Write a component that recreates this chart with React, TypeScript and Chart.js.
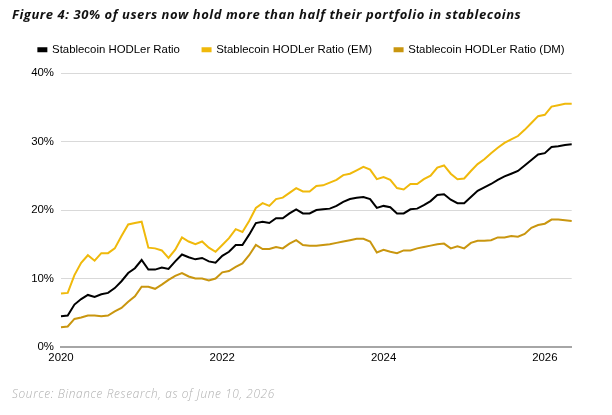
import React, { useEffect, useRef } from "react";
import { Chart, registerables } from "chart.js";

Chart.register(...registerables);

const months: string[] = [];
for (let y = 2020; y <= 2026; y++) {
  for (let m = 1; m <= 12; m++) {
    if (y === 2026 && m > 5) break;
    months.push(`${y}-${String(m).padStart(2, "0")}`);
  }
}

const hodlerAll = [
  4.5, 4.6, 6.2, 7.0, 7.6, 7.3, 7.7, 7.9, 8.6, 9.6, 10.8, 11.5,
  12.7, 11.3, 11.3, 11.6, 11.4, 12.5, 13.5, 13.1, 12.8, 13.0, 12.5, 12.3,
  13.3, 13.9, 14.9, 14.9, 16.4, 18.1, 18.3, 18.1, 18.8, 18.8, 19.5, 20.1,
  19.5, 19.5, 20.0, 20.1, 20.2, 20.6, 21.2, 21.6, 21.8, 21.9, 21.6, 20.3,
  20.6, 20.4, 19.5, 19.5, 20.1, 20.2, 20.7, 21.3, 22.2, 22.3, 21.5, 21.0,
  21.0, 21.9, 22.8, 23.3, 23.8, 24.4, 24.9, 25.3, 25.7, 26.5, 27.3, 28.1,
  28.3, 29.2, 29.3, 29.5, 29.6,
];

const hodlerEM = [
  7.8, 7.9, 10.5, 12.3, 13.4, 12.6, 13.7, 13.7, 14.4, 16.2, 17.9, 18.1,
  18.3, 14.5, 14.4, 14.1, 13.0, 14.2, 16.0, 15.4, 15.0, 15.4, 14.5, 13.9,
  14.9, 15.9, 17.2, 16.8, 18.4, 20.3, 21.0, 20.6, 21.6, 21.8, 22.5, 23.2,
  22.7, 22.7, 23.5, 23.6, 24.0, 24.4, 25.1, 25.3, 25.8, 26.3, 25.9, 24.5,
  24.8, 24.4, 23.2, 23.0, 23.8, 23.8, 24.5, 25.0, 26.2, 26.5, 25.3, 24.5,
  24.6, 25.7, 26.7, 27.4, 28.3, 29.1, 29.8, 30.3, 30.8, 31.7, 32.7, 33.7,
  33.9, 35.1, 35.3, 35.5, 35.5,
];

const hodlerDM = [
  2.9, 3.0, 4.1, 4.3, 4.6, 4.6, 4.5, 4.6, 5.2, 5.7, 6.6, 7.4,
  8.8, 8.8, 8.5, 9.1, 9.8, 10.4, 10.8, 10.3, 10.0, 10.0, 9.7, 10.0,
  10.9, 11.1, 11.7, 12.2, 13.4, 14.9, 14.3, 14.3, 14.6, 14.4, 15.1, 15.6,
  14.9, 14.8, 14.8, 14.9, 15.0, 15.2, 15.4, 15.6, 15.8, 15.8, 15.4, 13.8,
  14.2, 13.9, 13.7, 14.1, 14.1, 14.4, 14.6, 14.8, 15.0, 15.1, 14.4, 14.7,
  14.4, 15.2, 15.5, 15.5, 15.6, 16.0, 16.0, 16.2, 16.1, 16.5, 17.4, 17.8,
  18.0, 18.6, 18.6, 18.5, 18.4,
];

const seriesNames = [
  "Stablecoin HODLer Ratio",
  "Stablecoin HODLer Ratio (EM)",
  "Stablecoin HODLer Ratio (DM)",
];
const yTicks = [0, 10, 20, 30, 40];
const yearTicks = ["2020", "2022", "2024", "2026"];

const FONT = "'Liberation Sans', Arial, sans-serif";

export default function App() {
  const ref = useRef<HTMLCanvasElement>(null);

  useEffect(() => {
    if (!ref.current) return;
    const colors = ["#000000", "#F0B90B", "#C9960F"];
    const values = [hodlerAll, hodlerEM, hodlerDM];
    const chart = new Chart(ref.current, {
      type: "line",
      data: {
        labels: months,
        datasets: values.map((v, i) => ({
          label: seriesNames[i],
          data: v,
          borderColor: colors[i],
          backgroundColor: colors[i],
          borderWidth: 2,
          pointRadius: 0,
          tension: 0,
          fill: false,
        })),
      },
      options: {
        animation: false,
        responsive: false,
        maintainAspectRatio: false,
        layout: { padding: { left: 0, right: 9, top: 21.5, bottom: 46.3 } },
        plugins: {
          tooltip: { enabled: false },
          legend: {
            position: "top",
            align: "center",
            labels: {
              boxWidth: 8,
              boxHeight: 3,
              padding: 22.6,
              color: "#000",
              font: { family: FONT, size: 11.4 },
            },
          },
        },
        scales: {
          x: {
            type: "category",
            offset: false,
            grid: { display: false, drawTicks: false },
            border: { display: true, color: "#a6a6a6", width: 2 },
            ticks: {
              autoSkip: false,
              maxRotation: 0,
              minRotation: 0,
              padding: 4,
              color: "#000",
              font: { family: FONT, size: 11.4 },
              callback: (_v: any, idx: number) => {
                const lab = months[idx];
                if (!lab) return "";
                const [yr, mo] = lab.split("-");
                return mo === "01" && yearTicks.includes(yr) ? yr : "";
              },
            },
          },
          xTop: {
            type: "category",
            position: "top",
            display: true,
            grid: { display: false, drawTicks: false },
            border: { display: false },
            ticks: { display: false },
            afterFit: (s: any) => {
              s.height = 7.5;
            },
          },
          y: {
            min: yTicks[0],
            max: yTicks[yTicks.length - 1],
            afterFit: (s: any) => {
              s.width = 61;
            },
            afterBuildTicks: (s: any) => {
              s.ticks = yTicks.map((v) => ({ value: v }));
            },
            grid: { color: "#d9d9d9", lineWidth: 1, drawTicks: false },
            border: { display: false },
            ticks: {
              padding: 7,
              color: "#000",
              font: { family: FONT, size: 11.4 },
              callback: (v: any) => `${v}%`,
            },
          },
          yRight: {
            type: "linear",
            position: "right",
            display: true,
            grid: { display: false, drawTicks: false },
            border: { display: false },
            ticks: { display: false },
            afterFit: (s: any) => {
              s.width = 31.3;
            },
          },
        },
      },
    });
    return () => chart.destroy();
  }, []);

  return (
    <div
      style={{
        position: "fixed",
        left: 0,
        top: 0,
        width: 612,
        height: 415,
        background: "#fff",
        overflow: "hidden",
      }}
    >
      <canvas
        ref={ref}
        width={612}
        height={415}
        style={{ position: "absolute", left: 0, top: 0, width: 612, height: 415 }}
      />
      <div
        style={{
          position: "absolute",
          left: 12,
          top: 5,
          fontFamily: "'Open Sans', sans-serif",
          fontWeight: 700,
          fontStyle: "italic",
          fontSize: 13,
          letterSpacing: "0.55px",
          color: "#111",
          whiteSpace: "nowrap",
          lineHeight: "18px",
        }}
      >
        Figure 4: 30% of users now hold more than half their portfolio in stablecoins
      </div>
      <div
        style={{
          position: "absolute",
          left: 12,
          top: 384.5,
          fontFamily: "'Open Sans', sans-serif",
          fontWeight: 300,
          fontStyle: "italic",
          fontSize: 11.8,
          letterSpacing: "0.65px",
          color: "#b0b0b0",
          whiteSpace: "nowrap",
          lineHeight: "16px",
        }}
      >
        Source: Binance Research, as of June 10, 2026
      </div>
    </div>
  );
}
